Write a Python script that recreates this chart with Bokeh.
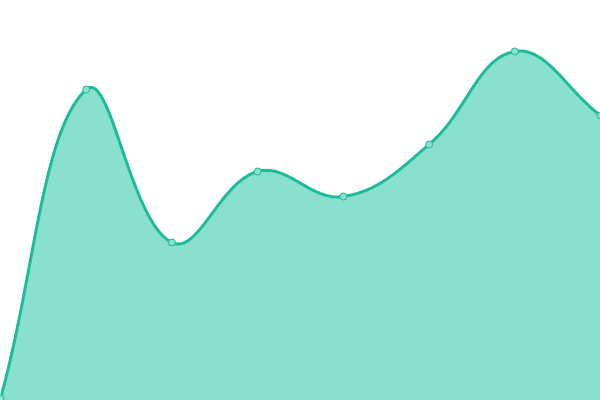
import numpy as np
from bokeh.plotting import figure
from bokeh.models import Range1d
from bokeh.embed import file_html
from bokeh.resources import INLINE

# data
categories = ["1", "2", "3", "4", "5", "6", "7", "8"]
values = [2, 311, 158, 229, 204, 256, 349, 285]

LINE = "#1dbb99"
FILL = "#8ae0cf"
W, H = 600, 400
XSPAN, YSPAN = 600.0, 400.0  # reference pixel space used for smoothing

xs = np.arange(len(values), dtype=float)
ys = np.array(values, dtype=float)

# smooth curve (tension 0.4 cardinal-type spline), computed in pixel-like space
px = xs * XSPAN / (len(values) - 1)
py = ys.copy()
t = 0.4
n = len(px)
cp_prev = []
cp_next = []
for i in range(n):
    pi = np.array([px[i], py[i]])
    pp = np.array([px[i - 1], py[i - 1]]) if i > 0 else pi
    pn = np.array([px[i + 1], py[i + 1]]) if i < n - 1 else pi
    d01 = np.hypot(*(pi - pp))
    d12 = np.hypot(*(pn - pi))
    tot = d01 + d12
    s01 = d01 / tot if tot else 0
    s12 = d12 / tot if tot else 0
    fa, fb = t * s01, t * s12
    cp_prev.append(pi - fa * (pn - pp))
    cp_next.append(pi + fb * (pn - pp))

cx, cy = [], []
tt = np.linspace(0, 1, 40)
for i in range(n - 1):
    p0 = np.array([px[i], py[i]])
    p1 = cp_next[i]
    p2 = cp_prev[i + 1]
    p3 = np.array([px[i + 1], py[i + 1]])
    for k, u in enumerate(tt):
        if i > 0 and k == 0:
            continue
        b = ((1 - u) ** 3) * p0 + 3 * ((1 - u) ** 2) * u * p1 + 3 * (1 - u) * u * u * p2 + u ** 3 * p3
        cx.append(b[0] * (len(values) - 1) / XSPAN)
        cy.append(b[1])

p = figure(width=W, height=H, output_backend="svg", toolbar_location=None,
           x_range=Range1d(0, len(values) - 1), y_range=Range1d(0, YSPAN),
           min_border=0, outline_line_color=None)
p.axis.visible = False
p.grid.visible = False
p.background_fill_color = "white"
p.border_fill_color = "white"

p.varea(x=cx, y1=0, y2=cy, fill_color=FILL, fill_alpha=1.0)
p.line(x=cx, y=cy, line_color=LINE, line_width=3)
p.scatter(x=xs, y=ys, size=7, fill_color=FILL, line_color=LINE, line_width=1)

open("out.html", "w").write(file_html(p, INLINE))
